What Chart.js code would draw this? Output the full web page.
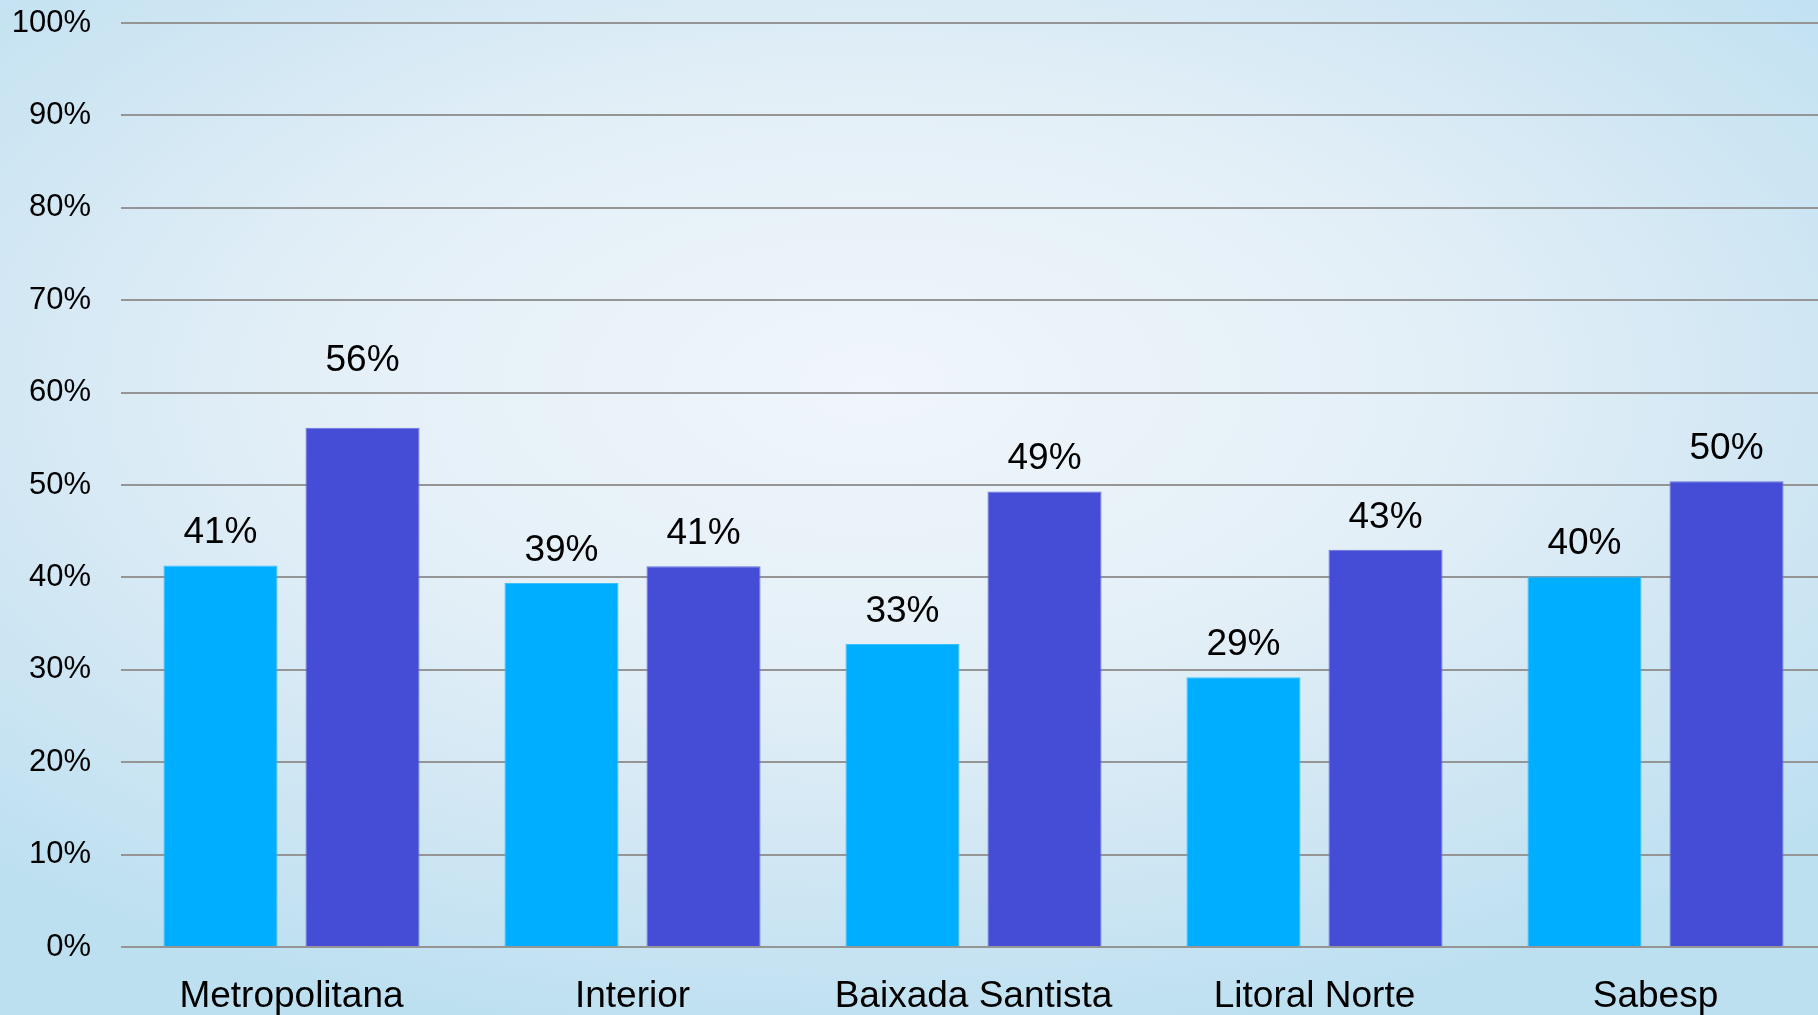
<!DOCTYPE html>
<html>
<head>
<meta charset="utf-8">
<script src="https://cdn.jsdelivr.net/npm/chart.js@4/dist/chart.umd.min.js"></script>
<style>
    html, body {
        margin: 0;
        padding: 0;
        width: 1818px;
        height: 1015px;
        overflow: hidden;
        background: radial-gradient(ellipse 70% 65% at 48% 38%, #f0f6fb 0%, #e3eff7 45%, #cfe6f3 75%, #bde0f1 100%);
    }
    #wrap {
        width: 1826px;
        height: 1015px;
    }
</style>
</head>
<body>
<div id="wrap"><canvas id="regions-chart" width="1826" height="1015"></canvas></div>
<script>
const regions = ['Metropolitana', 'Interior', 'Baixada Santista', 'Litoral Norte', 'Sabesp'];
const seriesA = [41.3, 39.4, 32.8, 29.2, 40.1];
const seriesB = [56.2, 41.2, 49.3, 43.0, 50.4];
const yTicks = [0, 10, 20, 30, 40, 50, 60, 70, 80, 90, 100];

const FONT = "'Liberation Sans', Arial, sans-serif";

// value labels above each bar; a label that would sit on a gridline is lifted above it
const barLabels = {
    id: 'barLabels',
    afterDatasetsDraw(chart) {
        const ctx = chart.ctx;
        const yScale = chart.scales.y;
        const gridY = yTicks.map(v => yScale.getPixelForValue(v));
        const gap = 22;
        const capHeight = 27;
        ctx.save();
        ctx.font = '37px ' + FONT;
        ctx.fillStyle = '#000';
        ctx.textAlign = 'center';
        ctx.textBaseline = 'alphabetic';
        chart.data.datasets.forEach((ds, i) => {
            chart.getDatasetMeta(i).data.forEach((bar, j) => {
                let base = bar.y - gap;
                const hit = gridY.find(g => g > base - capHeight && g < base);
                if (hit !== undefined) {
                    base = hit - gap;
                }
                ctx.fillText(Math.round(ds.data[j]) + '%', bar.x, base);
            });
        });
        ctx.restore();
    }
};

new Chart(document.getElementById('regions-chart').getContext('2d'), {
    type: 'bar',
    data: {
        labels: regions,
        datasets: [{
            data: seriesA,
            backgroundColor: '#00aeff',
            borderColor: '#3cc0ff',
            borderWidth: 1
        }, {
            data: seriesB,
            backgroundColor: '#454dd6',
            borderColor: '#6b72e2',
            borderWidth: 1
        }]
    },
    options: {
        responsive: false,
        animation: false,
        categoryPercentage: 0.833,
        barPercentage: 0.803,
        plugins: {
            legend: { display: false },
            tooltip: { enabled: false }
        },
        scales: {
            x: {
                grid: { display: false },
                border: { display: false },
                ticks: {
                    color: '#000',
                    padding: 20,
                    maxRotation: 0,
                    font: { family: FONT, size: 37 }
                },
                afterFit: scale => { scale.height = 68; }
            },
            y: {
                min: 0,
                max: 100,
                border: { display: false },
                grid: {
                    color: '#959595',
                    lineWidth: 2,
                    drawTicks: false
                },
                afterBuildTicks: scale => {
                    scale.ticks = yTicks.map(v => ({ value: v }));
                },
                ticks: {
                    color: '#000',
                    padding: 30,
                    font: { family: FONT, size: 31 },
                    callback: value => value + '%'
                },
                afterFit: scale => {
                    scale.width = 121;
                    // keep the plot top close to the canvas edge
                    scale.paddingTop = 23;
                    scale.paddingBottom = 0;
                }
            }
        }
    },
    plugins: [barLabels]
});
</script>
</body>
</html>
